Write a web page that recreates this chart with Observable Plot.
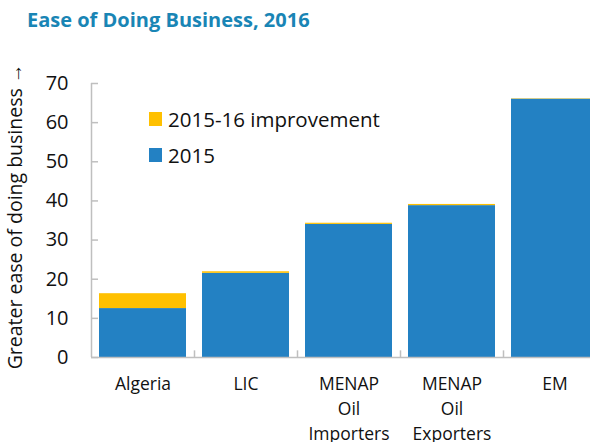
<!DOCTYPE html>
<html>
<head>
<meta charset="utf-8">
<script src="https://cdn.jsdelivr.net/npm/d3@7"></script>
<script src="https://cdn.jsdelivr.net/npm/@observablehq/plot@0.6"></script>
<style>
  html, body { margin: 0; padding: 0; background: #fff; overflow: hidden; }
  #wrap { position: relative; width: 590px; height: 442px; font-family: "Open Sans", sans-serif; }
  #title { height: 40px; line-height: 40px; padding-left: 27px; font-weight: bold; font-size: 20px; color: #1985b5; }
  .leg { position: absolute; left: 149px; display: flex; align-items: center; font-size: 20.5px; color: #111; }
  .leg span.sw { width: 13px; height: 14px; margin-right: 6px; display: inline-block; }
</style>
</head>
<body>
<div id="wrap">
  <div id="title">Ease of Doing Business, 2016</div>
  <div id="chart"></div>
  <div class="leg" style="top:105px"><span class="sw" style="background:#ffc000"></span>2015-16 improvement</div>
  <div class="leg" style="top:141px"><span class="sw" style="background:#2381c3"></span>2015</div>
</div>
<script>
const categories = ["Algeria", "LIC", "MENAP\nOil\nImporters", "MENAP\nOil\nExporters", "EM"];
const value2015 = [12.5, 21.5, 34.0, 38.8, 66.0];
const improvement = [3.8, 0.4, 0.3, 0.3, 0.1];
const seriesNames = ["2015", "2015-16 improvement"];
const seriesColors = ["#2381c3", "#ffc000"];
const yTicks = [0, 10, 20, 30, 40, 50, 60, 70];

const rows = [];
categories.forEach((c, i) => {
  rows.push({cat: c, series: seriesNames[0], value: value2015[i]});
  rows.push({cat: c, series: seriesNames[1], value: improvement[i]});
});

const width = 590, height = 402;
const marginLeft = 91, marginRight = -16;
const step = (width - marginLeft - marginRight) / 5;

const chart = Plot.plot({
  width, height,
  marginTop: 43, marginBottom: 85, marginLeft, marginRight,
  style: {fontFamily: "Open Sans, sans-serif", color: "#111", background: "#fff"},
  x: {domain: categories, paddingInner: 0.16, paddingOuter: 0.06, label: null},
  y: {domain: [0, 70], label: null},
  color: {domain: seriesNames, range: seriesColors},
  marks: [
    Plot.barY(rows, {x: "cat", y: "value", fill: "series", order: seriesNames}),
    Plot.ruleY([0], {stroke: "#bfbfbf", strokeWidth: 1.5}),
    Plot.ruleX([categories[0]], {x: d => d, dx: -step / 2, y1: 0, y2: 70, stroke: "#bfbfbf", strokeWidth: 1.5}),
    Plot.ruleX(categories.slice(1), {x: d => d, dx: -step / 2, y1: 0, y2: 1.7, stroke: "#bfbfbf", strokeWidth: 1.5}),
    Plot.axisY(yTicks, {tickSize: -7, tickPadding: 30, stroke: "#bfbfbf", strokeWidth: 1.5, fontSize: 20, label: null}),
    Plot.axisX({tickSize: 0, tickPadding: 15, fontSize: 17.5, lineHeight: 1.43, label: null}),
    Plot.text(["Greater ease of doing business →"], {
      frameAnchor: "left", textAnchor: "middle", rotate: -90, dx: -76, dy: -4, fontSize: 19.5, fill: "#111"
    })
  ]
});
document.getElementById("chart").appendChild(chart);
</script>
</body>
</html>
